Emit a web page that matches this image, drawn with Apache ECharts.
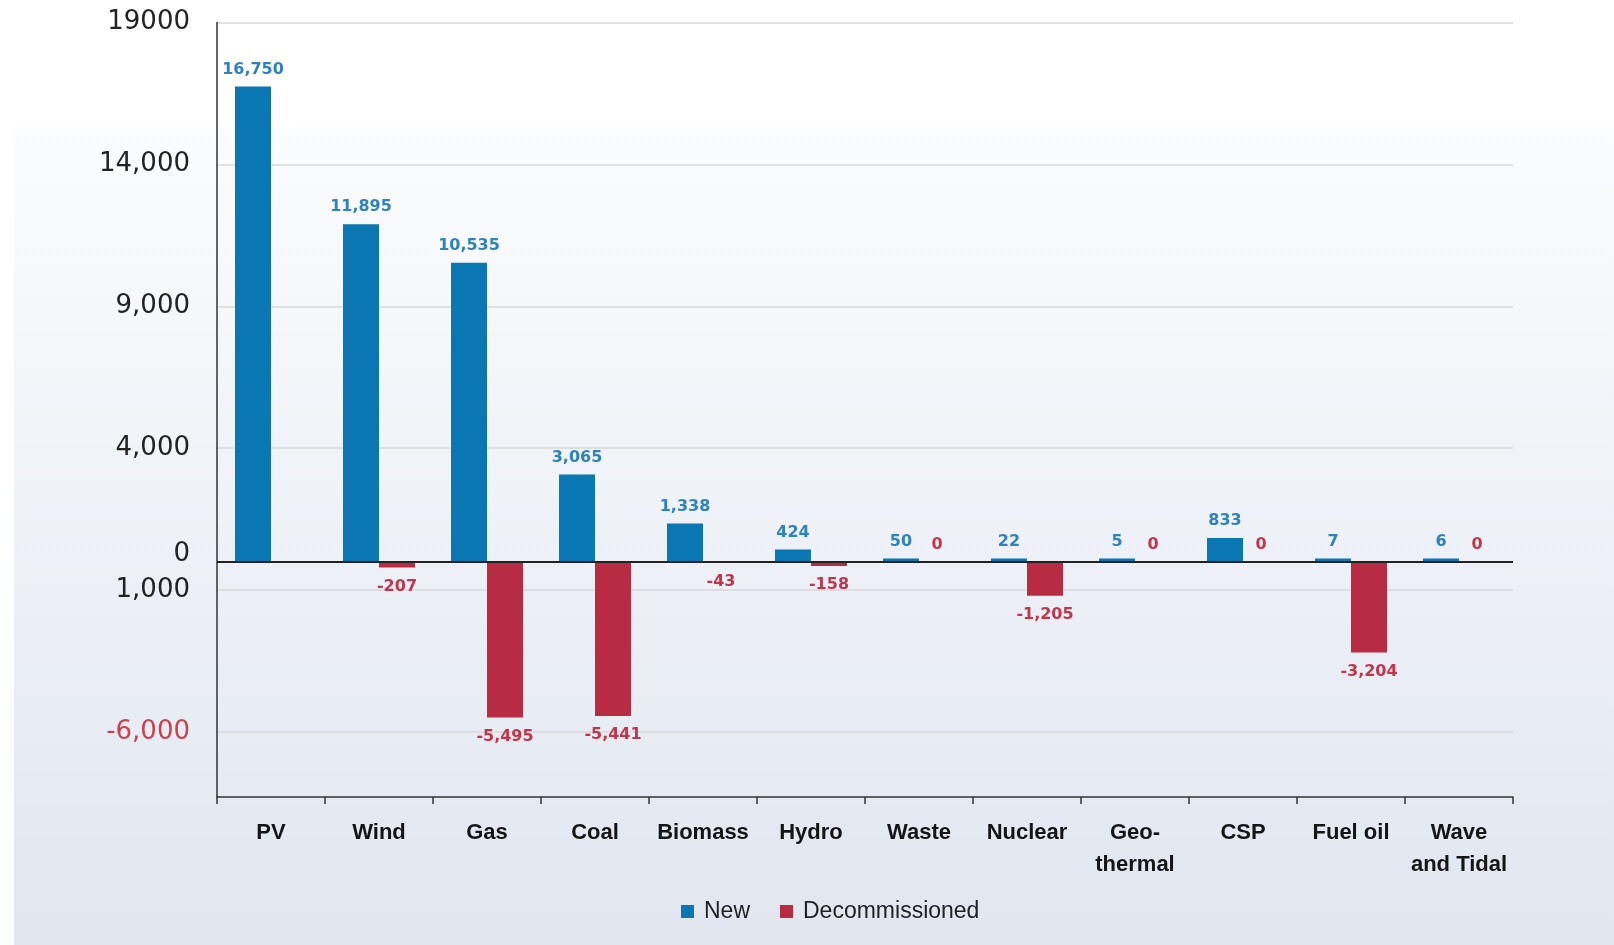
<!DOCTYPE html>
<html>
<head>
<meta charset="utf-8">
<script src="https://cdn.jsdelivr.net/npm/echarts@6/dist/echarts.min.js"></script>
<style>
  html, body { margin: 0; padding: 0; background: #fff; }
  #chart { width: 1614px; height: 945px; }
</style>
</head>
<body>
<div id="chart"></div>
<script>
const categories = ['PV', 'Wind', 'Gas', 'Coal', 'Biomass', 'Hydro', 'Waste', 'Nuclear', 'Geo-\nthermal', 'CSP', 'Fuel oil', 'Wave\nand Tidal']
const newCapacity = [16750, 11895, 10535, 3065, 1338, 424, 50, 22, 5, 833, 7, 6]
const decommissioned = [null, -207, -5495, -5441, -43, -158, 0, -1205, 0, 0, -3204, 0]
const yTickValues = [19000, 14000, 9000, 4000, 0, -1000, -6000]
const yTickLabels = ['19000', '14,000', '9,000', '4,000', '0', '1,000', '-6,000']

const BLUE = '#0b77b2'
const RED = '#b92b43'

const chart = echarts.init(document.getElementById('chart'))

const fmt = (v) => Number(v).toLocaleString('en-US')

chart.setOption({
  animation: false,
  graphic: [
    {
      type: 'rect',
      z: -10,
      silent: true,
      shape: { x: 14, y: 127, width: 1600, height: 818 },
      style: {
        fill: new echarts.graphic.LinearGradient(0, 0, 0, 1, [
          { offset: 0, color: '#fbfcfe' },
          { offset: 1, color: '#e1e6ef' },
        ]),
      },
    },
  ],
  legend: {
    data: ['New', 'Decommissioned'],
    left: 676,
    top: 895,
    icon: 'rect',
    itemWidth: 13,
    itemHeight: 13,
    itemGap: 30,
    textStyle: { fontFamily: 'Liberation Sans', fontSize: 23, color: '#222', padding: [0, 0, 0, 5] },
  },
  grid: { left: 217, right: 101, top: 22.6, bottom: 148 },
  xAxis: {
    type: 'category',
    data: categories,
    axisLine: { onZero: false, lineStyle: { color: '#333', width: 1.5 } },
    axisTick: { show: true, length: 7, lineStyle: { color: '#333', width: 1.5 } },
    axisLabel: {
      interval: 0,
      margin: 20,
      lineHeight: 32,
      fontFamily: 'Liberation Sans',
      fontWeight: 'bold',
      fontSize: 22,
      color: '#151515',
    },
    splitLine: { show: false },
  },
  yAxis: {
    type: 'value',
    min: -8300,
    max: 19000,
    axisLine: { show: true, lineStyle: { color: '#333', width: 1.5 } },
    axisTick: { show: false, customValues: yTickValues },
    axisLabel: {
      customValues: yTickValues,
      margin: 27,
      fontFamily: 'DejaVu Sans',
      fontSize: 26,
      color: '#222',
      formatter: (v) => {
        const i = yTickValues.indexOf(v)
        const txt = i >= 0 ? yTickLabels[i] : ''
        if (v < -1000) return '{neg|' + txt + '}'
        if (v === 0) return '{zero|' + txt + '}'
        return txt
      },
      rich: {
        neg: { fontFamily: 'DejaVu Sans', fontSize: 26, color: '#c8424f' },
        zero: { fontFamily: 'DejaVu Sans', fontSize: 26, color: '#222', padding: [0, 0, 14, 0] },
      },
    },
    splitLine: { show: true, lineStyle: { color: '#d8d8d8', width: 1.5 } },
  },
  series: [
    {
      name: 'New',
      type: 'bar',
      data: newCapacity,
      barWidth: 36,
      barGap: '0%',
      barMinHeight: 3,
      itemStyle: { color: BLUE },
      label: {
        show: true,
        position: 'top',
        distance: 9,
        fontFamily: 'DejaVu Sans',
        fontWeight: 'bold',
        fontSize: 16,
        color: '#2f82c0',
        formatter: (p) => fmt(p.value),
      },
      markLine: {
        silent: true,
        symbol: 'none',
        label: { show: false },
        lineStyle: { color: '#222', width: 2, type: 'solid' },
        data: [{ yAxis: 0 }],
      },
    },
    {
      name: 'Decommissioned',
      type: 'bar',
      data: decommissioned.map((v) => (v === 0 ? { value: 0, label: { position: 'top', distance: 9 } } : v)),
      barWidth: 36,
      itemStyle: { color: RED },
      label: {
        show: true,
        position: 'bottom',
        distance: 11,
        fontFamily: 'DejaVu Sans',
        fontWeight: 'bold',
        fontSize: 16,
        color: '#c3354a',
        formatter: (p) => (p.value == null ? '' : fmt(p.value)),
      },
    },
  ],
})
</script>
</body>
</html>
